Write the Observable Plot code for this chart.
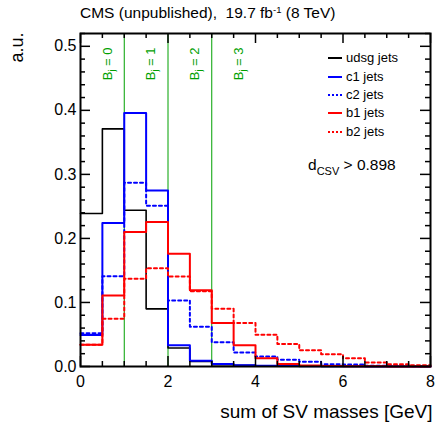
<!DOCTYPE html>
<html>
<head>
<meta charset="utf-8">
<script src="https://cdn.jsdelivr.net/npm/d3@7"></script>
<script src="https://cdn.jsdelivr.net/npm/@observablehq/plot@0.6"></script>
<style>
  body { margin: 0; background: #fff; font-family: "Liberation Sans", Arial, Helvetica, sans-serif; }
  #wrap { position: relative; width: 435px; height: 423px; overflow: hidden; }
  #wrap > svg { position: absolute; left: 0; top: 0; font-family: "Liberation Sans", Arial, Helvetica, sans-serif; }
  .ovl { position: absolute; white-space: pre; color: #000; }
  #title { left: 80px; top: 6px; font-size: 15.5px; line-height: 14px; }
  #title .sup { font-size: 9.5px; vertical-align: 5px; line-height: 0; }
  #dcsv { left: 308px; top: 157px; font-size: 15.5px; line-height: 15px; }
  #dcsv .sub { font-size: 11px; vertical-align: -5px; line-height: 0; }
  .legrow { position: absolute; left: 328px; height: 18px; display: flex; align-items: center; font-size: 13px; line-height: 18px; white-space: pre; }
  .legrow svg { display: block; margin-right: 4px; }
</style>
</head>
<body>
<div id="wrap"></div>
<script>
// ---------------- data ----------------
const binEdges = [0, 0.5, 1, 1.5, 2, 2.5, 3, 3.5, 4, 4.5, 5, 5.5, 6, 6.5, 7, 7.5, 8];

const udsgJets = [0.239, 0.371, 0.244, 0.090, 0.029, 0.008, 0.003, 0.002, 0.001, 0.0005, 0.0003, 0.0002, 0.0001, 0, 0, 0];
const c1Jets   = [0.049, 0.224, 0.396, 0.275, 0.033, 0.009, 0.004, 0.002, 0.001, 0.0008, 0.0005, 0.0003, 0.0002, 0.0001, 0, 0];
const c2Jets   = [0.052, 0.141, 0.287, 0.251, 0.103, 0.062, 0.038, 0.022, 0.0155, 0.0105, 0.0073, 0.0037, 0.003, 0.001, 0.0006, 0.0003];
const b1Jets   = [0.034, 0.111, 0.210, 0.2255, 0.176, 0.119, 0.068, 0.033, 0.013, 0.004, 0.0015, 0.0008, 0.0004, 0.0002, 0.0001, 0.0001];
const b2Jets   = [0.034, 0.0745, 0.137, 0.1535, 0.1405, 0.1175, 0.090, 0.068, 0.0495, 0.035, 0.0255, 0.019, 0.013, 0.0063, 0.0036, 0.002];

const seriesNames  = ["udsg jets", "c1 jets", "c2 jets", "b1 jets", "b2 jets"];
const seriesValues = [udsgJets, c1Jets, c2Jets, b1Jets, b2Jets];
const seriesColors = ["#000000", "#0000ff", "#0000ff", "#ff0000", "#ff0000"];
const seriesDashed = [false, false, true, false, true];

const bjBoundaries = [1, 2, 3];
const bjCenters    = [0.5, 1.5, 2.5, 3.5];
const bjCounts     = ["0", "1", "2", "3"];

const xTickLabels = [0, 2, 4, 6, 8];
const yTickLabels = [0, 0.1, 0.2, 0.3, 0.4, 0.5];
const xDomain = [0, 8];
const yDomain = [0, 0.52];

const titleText  = "CMS (unpublished),  19.7 fb";
const titleSup   = "-1";
const titleTail  = " (8 TeV)";
const yLabel = "a.u.";
const xLabel = "sum of SV masses [GeV]";
const cutMain = "d", cutSub = "CSV", cutTail = " > 0.898";

// ---------------- layout ----------------
const W = 435, H = 423, mL = 80, mR = 5, mT = 33, mB = 57;
const ph = H - mT - mB, pw = W - mL - mR;
const majorLen = 10, minorLen = 5;
const green = "#00a000";

const xMinor = d3.range(0, 8.001, 0.5).filter(v => !xTickLabels.includes(v));
const yMinor = d3.range(0, 0.5201, 0.02).map(v => +v.toFixed(2)).filter(v => !yTickLabels.some(t => Math.abs(t - v) < 1e-9));

function steps(vals) {
  const pts = vals.map((v, i) => ({x: binEdges[i], y: v}));
  pts.push({x: binEdges[vals.length], y: vals[vals.length - 1]});
  return pts;
}

const tickOpts = {stroke: "#000", strokeWidth: 1.5};

const marks = [
  Plot.ruleX(bjBoundaries, {x: d => d, stroke: green, strokeWidth: 1}),
  ...seriesValues.map((vals, i) => Plot.line(steps(vals), {
    x: "x", y: "y", curve: "step-after",
    stroke: seriesColors[i],
    strokeWidth: i === 0 ? 1.6 : 2,
    strokeDasharray: seriesDashed[i] ? "3,3" : null
  })),
  Plot.text(bjCenters, {
    x: d => d, text: (d, i) => bjCounts[i],
    frameAnchor: "top", rotate: -90, textAnchor: "end", dy: 14,
    fill: green, fontSize: 13, ariaDescription: "bj-labels"
  }),
  // ticks (inward) bottom/top
  Plot.tickX(xTickLabels, {x: d => d, insetTop: ph - majorLen, ...tickOpts}),
  Plot.tickX(xMinor, {x: d => d, insetTop: ph - minorLen, ...tickOpts}),
  Plot.tickX(xTickLabels, {x: d => d, insetBottom: ph - majorLen, ...tickOpts}),
  Plot.tickX(xMinor, {x: d => d, insetBottom: ph - minorLen, ...tickOpts}),
  // ticks left/right
  Plot.tickY(yTickLabels, {y: d => d, insetRight: pw - majorLen, ...tickOpts}),
  Plot.tickY(yMinor, {y: d => d, insetRight: pw - minorLen, ...tickOpts}),
  Plot.tickY(yTickLabels, {y: d => d, insetLeft: pw - majorLen, ...tickOpts}),
  Plot.tickY(yMinor, {y: d => d, insetLeft: pw - minorLen, ...tickOpts}),
  Plot.axisX({ticks: xTickLabels, tickSize: 0, tickPadding: 9, fontSize: 16, label: null, tickFormat: d3.format("d")}),
  Plot.axisY({ticks: yTickLabels, tickSize: 0, tickPadding: 4, fontSize: 16, label: null, tickFormat: d3.format(".1f")}),
  Plot.frame({stroke: "#000", strokeWidth: 2}),
  Plot.text([yLabel], {frameAnchor: "top-left", rotate: -90, textAnchor: "end", dx: -70, dy: -1, fontSize: 18}),
  Plot.text([xLabel], {frameAnchor: "bottom-right", textAnchor: "end", dx: 2, dy: 51, fontSize: 19})
];

const svg = Plot.plot({
  width: W, height: H,
  marginLeft: mL, marginRight: mR, marginTop: mT, marginBottom: mB,
  x: {domain: xDomain, label: null},
  y: {domain: yDomain, label: null},
  style: {fontSize: "16px", fontFamily: "Liberation Sans, Arial, Helvetica, sans-serif", background: "transparent", color: "#000"},
  marks
});

// B_j labels with subscript j
let bjNodes = d3.select(svg).selectAll('g[aria-description="bj-labels"] text');
if (bjNodes.empty()) {
  bjNodes = d3.select(svg).selectAll("text").filter(function() {
    return bjCounts.includes(this.textContent) && this.getAttribute("fill") === green
      || (bjCounts.includes(this.textContent) && this.parentNode.getAttribute("fill") === green);
  });
}
bjNodes.each(function() {
  const t = d3.select(this);
  const txt = t.text();
  t.text(null);
  t.append("tspan").text("B");
  t.append("tspan").attr("dy", "3px").attr("font-size", "9px").text("j");
  t.append("tspan").attr("dy", "-3px").text(" = " + txt);
});

const wrap = document.getElementById("wrap");
wrap.appendChild(svg);

// title
const title = document.createElement("div");
title.id = "title"; title.className = "ovl";
title.append(titleText);
const sup = document.createElement("span"); sup.className = "sup"; sup.textContent = titleSup;
title.append(sup, titleTail);
wrap.appendChild(title);

// cut label
const dcsv = document.createElement("div");
dcsv.id = "dcsv"; dcsv.className = "ovl";
dcsv.append(cutMain);
const sub = document.createElement("span"); sub.className = "sub"; sub.textContent = cutSub;
dcsv.append(sub, cutTail);
wrap.appendChild(dcsv);

// legend
seriesNames.forEach((name, i) => {
  const row = document.createElement("div");
  row.className = "legrow";
  row.style.top = (58.3 + 18.35 * i - 9) + "px";
  const sw = d3.create("svg").attr("width", 14).attr("height", 18);
  sw.append("line").attr("x1", 0).attr("x2", 14).attr("y1", 9).attr("y2", 9)
    .attr("stroke", seriesColors[i]).attr("stroke-width", 2)
    .attr("stroke-dasharray", seriesDashed[i] ? "2,2" : null);
  row.appendChild(sw.node());
  row.append(name);
  wrap.appendChild(row);
});
</script>
</body>
</html>
